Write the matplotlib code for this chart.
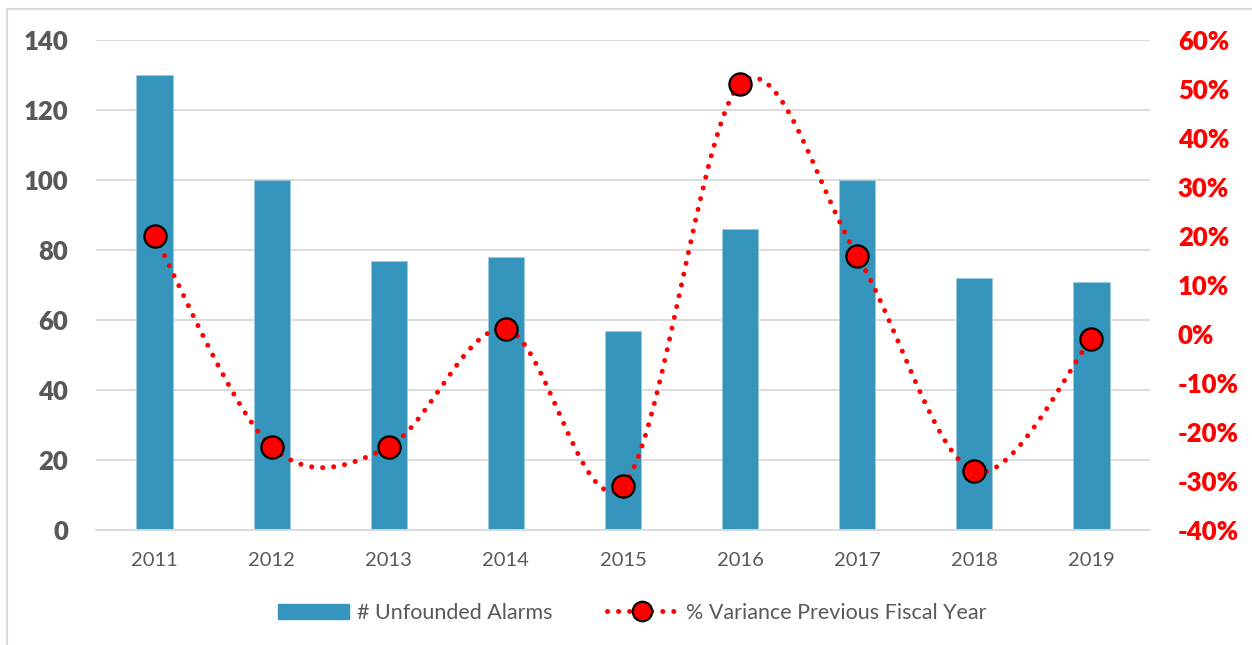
import numpy as np
import matplotlib
matplotlib.use("Agg")
import matplotlib.pyplot as plt
from matplotlib.patches import Rectangle, Patch
from matplotlib.lines import Line2D

years = ["2011", "2012", "2013", "2014", "2015", "2016", "2017", "2018", "2019"]
alarms = [130, 100, 77, 78, 57, 86, 100, 72, 71]
variance = [0.20, -0.23, -0.23, 0.01, -0.31, 0.51, 0.16, -0.28, -0.01]
left_ticks = [0, 20, 40, 60, 80, 100, 120, 140]
right_ticks = [-40, -30, -20, -10, 0, 10, 20, 30, 40, 50, 60]

bar_color = "#3595BC"
grid_color = "#D9D9D9"
text_color = "#595959"

plt.rcParams['font.family'] = ['Lato', 'DejaVu Sans']


def smooth(xs, ys, steps=40):
    # Catmull-Rom style smoothing, similar to spreadsheet "smoothed line"
    xs = np.asarray(xs, float)
    ys = np.asarray(ys, float)
    px = np.concatenate([[xs[0]], xs, [xs[-1]]])
    py = np.concatenate([[ys[0]], ys, [ys[-1]]])
    out_x, out_y = [], []
    for i in range(1, len(px) - 2):
        p0, p1, p2, p3 = (np.array([px[j], py[j]]) for j in (i - 1, i, i + 1, i + 2))
        c1 = p1 + (p2 - p0) / 6.0
        c2 = p2 - (p3 - p1) / 6.0
        t = np.linspace(0, 1, steps)[:, None]
        pts = ((1 - t) ** 3) * p1 + 3 * ((1 - t) ** 2) * t * c1 + 3 * (1 - t) * t ** 2 * c2 + t ** 3 * p2
        out_x.extend(pts[:, 0])
        out_y.extend(pts[:, 1])
    return np.array(out_x), np.array(out_y)


fig = plt.figure(figsize=(12.52, 6.45), dpi=100)
W, H = 1252.0, 645.0

# outer chart border
fig.patches.append(Rectangle((7 / W, -0.01), 1.02, (645 - 8.5) / H + 0.01,
                             transform=fig.transFigure, fill=False,
                             edgecolor=grid_color, linewidth=1.5))

ax = fig.add_axes([96 / W, (H - 530) / H, 1054 / W, 490 / H])
x = np.arange(len(years))
ax.bar(x, alarms, width=0.31, color=bar_color, edgecolor="#9CC9DD", linewidth=0.6, zorder=2)
ax.set_xlim(-0.5, len(years) - 0.5)
ax.set_ylim(0, 140)
ax.set_yticks(left_ticks)
ax.set_yticklabels([str(v) for v in left_ticks], fontweight="heavy")
ax.set_xticks(x)
ax.set_xticklabels(years)
ax.grid(axis="y", color=grid_color, linewidth=1.3, zorder=0)
ax.set_axisbelow(True)
for s in ["top", "right", "left"]:
    ax.spines[s].set_visible(False)
ax.spines["bottom"].set_color(grid_color)
ax.spines["bottom"].set_linewidth(1.3)
ax.tick_params(axis="y", length=0, pad=20, labelsize=18.5, labelcolor=text_color)
ax.tick_params(axis="x", length=0, pad=16, labelsize=14.5, labelcolor=text_color)

ax2 = ax.twinx()
ax2.set_ylim(-0.4, 0.6)
ax2.set_yticks([v / 100 for v in right_ticks])
ax2.set_yticklabels(["{}%".format(v) for v in right_ticks], fontweight="heavy")
for s in ["top", "right", "left", "bottom"]:
    ax2.spines[s].set_visible(False)
ax2.tick_params(axis="y", length=0, pad=20, labelsize=18.5, labelcolor="#FF0000")

sx, sy = smooth(x, variance)
dot_style = dict(color="#FF0000", linewidth=3.6, linestyle=(0, (0.01, 2.2)),
                 dash_capstyle="round")
ax2.plot(sx, sy, **dot_style, zorder=3)
ax2.plot(x, variance, linestyle="none", marker="o", markersize=16,
         markerfacecolor="#FF0000", markeredgecolor="black", markeredgewidth=1.6, zorder=4)

handles = [
    Patch(facecolor=bar_color, edgecolor=bar_color),
    Line2D([], [], marker="o", markersize=14, markerfacecolor="#FF0000",
           markeredgecolor="black", markeredgewidth=1.6, **dot_style),
]
leg = fig.legend(handles, ["# Unfounded Alarms", "% Variance Previous Fiscal Year"],
                 loc="center", bbox_to_anchor=(0.505, (H - 613) / H), ncol=2,
                 frameon=False, fontsize=15.5, handlelength=3.3, handleheight=0.7,
                 columnspacing=2.5, handletextpad=0.4, numpoints=1)
for t in leg.get_texts():
    t.set_color(text_color)

fig.savefig("out.png", dpi=100)
